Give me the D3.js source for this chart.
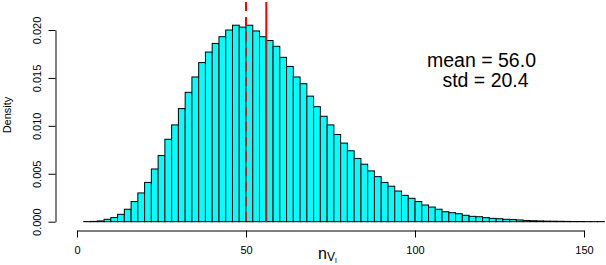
<!doctype html>
<html>
<head>
<meta charset="utf-8">
<title>histogram</title>
<script src="https://d3js.org/d3.v7.min.js"></script>
<style>
body{margin:0;background:#fff;}
svg text{font-family:"Liberation Sans",Arial,sans-serif;}
</style>
</head>
<body>
<script>
// bins of width 2 starting at 0, density per bin
var binWidth = 2;
var density = [
  0, 0.00001, 0.00003, 0.00008, 0.00025, 0.00043, 0.00077, 0.0013, 0.0021, 0.0030,
  0.0041, 0.0055, 0.0069, 0.0086, 0.0101, 0.0118, 0.0135, 0.0151, 0.0166, 0.0177,
  0.0186, 0.0193, 0.0200, 0.0205, 0.0203, 0.0205, 0.0199, 0.0193, 0.0189, 0.0183,
  0.01715, 0.0162, 0.0151, 0.0144, 0.0131, 0.0120, 0.0110, 0.0101, 0.0091, 0.0082,
  0.0074, 0.0066, 0.0060, 0.0053, 0.0047, 0.0041, 0.0037, 0.0032, 0.00275, 0.00244,
  0.0021, 0.00174, 0.00153, 0.0013, 0.00104, 0.00094, 0.00083, 0.00067, 0.00056, 0.00052,
  0.00042, 0.00035, 0.00031, 0.00025, 0.00022, 0.00018, 0.00013, 0.0001, 0.00008, 0.00006,
  0.00005, 0.00004, 0.00003, 0.00002, 0.00002, 0.00001, 0.00001, 0.00001, 0, 0
];
var xTicks = [0, 50, 100, 150];
var yTicks = [0, 0.005, 0.010, 0.015, 0.020];
var meanVal = 56.0, dashedVal = 50;
var statLines = ["mean = 56.0", "std = 20.4"];

var width = 606, height = 265;
var svg = d3.select("body").append("svg")
    .attr("width", width)
    .attr("height", height);

var x = d3.scaleLinear().domain([0, 150]).range([77, 584]);
var y = d3.scaleLinear().domain([0, 0.020]).range([221.7, 30]);

// bars
svg.append("g").selectAll("rect")
    .data(density)
    .enter().append("rect")
    .attr("x", function(d, i){ return x(i * binWidth); })
    .attr("y", function(d){ return y(d); })
    .attr("width", function(d, i){ return x((i + 1) * binWidth) - x(i * binWidth); })
    .attr("height", function(d){ return y(0) - y(d); })
    .style("fill", "#00ffff")
    .style("stroke", "#000")
    .style("stroke-width", 1);

// vertical lines
svg.append("line")
    .attr("x1", x(dashedVal)).attr("x2", x(dashedVal))
    .attr("y1", 2).attr("y2", y(0))
    .style("stroke", "#ff0000").style("stroke-width", 2)
    .style("stroke-dasharray", "9,6");
svg.append("line")
    .attr("x1", x(meanVal)).attr("x2", x(meanVal))
    .attr("y1", 2).attr("y2", y(0))
    .style("stroke", "#ff0000").style("stroke-width", 2);

// x axis
var xAxis = d3.axisBottom(x).tickValues(xTicks).tickSize(7).tickSizeOuter(0).tickPadding(9);
var gx = svg.append("g").attr("transform", "translate(0,230.5)").call(xAxis);
gx.selectAll("text").style("font-size", "11px").style("fill", "#000");
gx.selectAll("line,path").style("stroke", "#000");

// y axis
var yAxis = d3.axisLeft(y).tickValues(yTicks).tickSize(7).tickSizeOuter(0).tickFormat(d3.format(".3f"));
var gy = svg.append("g").attr("transform", "translate(55.5,0)").call(yAxis);
gy.selectAll("line,path").style("stroke", "#000");
gy.selectAll("text")
    .attr("x", null).attr("dy", null)
    .attr("transform", "translate(-15,0) rotate(-90)")
    .style("text-anchor", "middle")
    .style("font-size", "11px").style("fill", "#000");

// axis titles
svg.append("text")
    .attr("transform", "translate(11,115) rotate(-90)")
    .style("text-anchor", "middle")
    .style("font-size", "11px")
    .text("Density");

var xl = svg.append("text")
    .attr("x", 318).attr("y", 259)
    .style("font-size", "16px");
xl.append("tspan").text("n");
xl.append("tspan").attr("dy", 2).style("font-size", "12px").text("V");
xl.append("tspan").attr("dy", 2).style("font-size", "8px").text("l");

// stats text (second line sits a little right, as in the original)
svg.append("g").selectAll("text")
    .data(statLines)
    .enter().append("text")
    .attr("x", function(d, i){ return i == 0 ? 481.5 : 485.5; })
    .attr("y", function(d, i){ return 67 + i * 20; })
    .style("text-anchor", "middle")
    .style("font-size", "19.5px")
    .text(function(d){ return d; });
</script>
</body>
</html>
